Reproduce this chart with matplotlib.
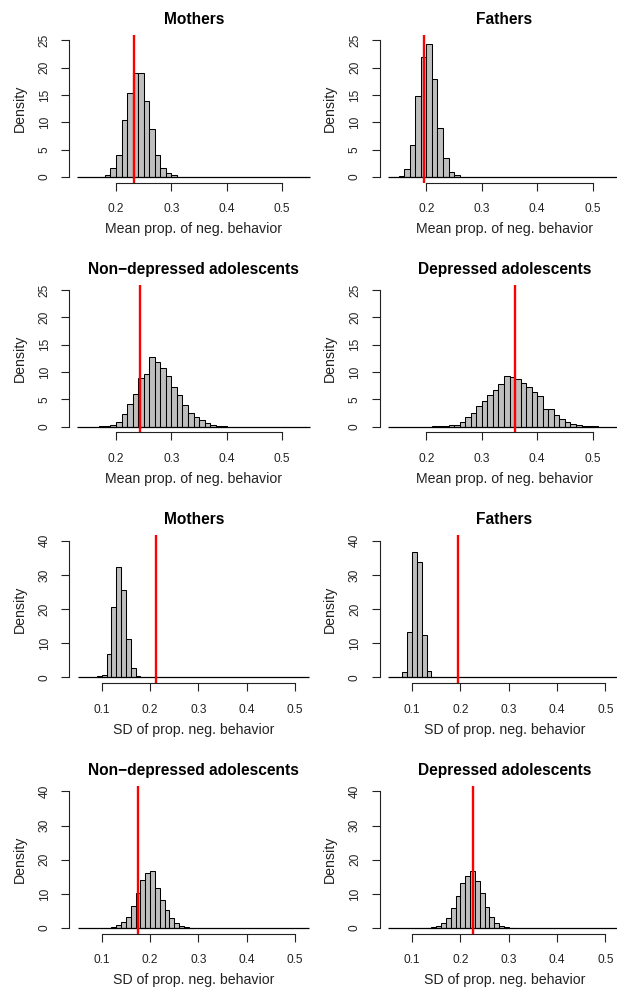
import matplotlib
matplotlib.use("Agg")
import matplotlib.pyplot as plt
import numpy as np

# -------------------------
# Data (densities, bin width 0.01)
# -------------------------
BIN_WIDTH = 0.01
MEAN_BREAKS = (0.13, 0.55)
SD_BREAKS = (0.05, 0.53)

titles = ["Mothers", "Fathers", "Non\u2212depressed adolescents", "Depressed adolescents"]

# mean proportion of negative behaviour
mean_starts = [0.18, 0.15, 0.17, 0.21]
mothers_mean = [0.3, 1.7, 4.1, 10.5, 15.4, 19.0, 19.0, 14.0, 8.8, 4.0, 1.7, 0.7, 0.3]
fathers_mean = [0.2, 1.5, 5.8, 14.8, 21.9, 24.3, 17.9, 9.0, 3.4, 1.0, 0.3]
nondep_mean = [0.1, 0.2, 0.4, 0.9, 2.3, 4.1, 6.0, 9.0, 9.6, 12.7, 11.8, 10.7,
               9.3, 7.3, 5.8, 4.0, 2.6, 1.8, 1.2, 0.6, 0.3, 0.15, 0.05]
dep_mean = [0.05, 0.1, 0.15, 0.25, 0.4, 0.85, 1.7, 2.6, 3.8, 4.8, 5.8, 6.8,
            7.8, 9.3, 9.1, 8.7, 8.0, 7.2, 6.4, 5.7, 3.2, 3.2, 2.1, 1.5,
            0.9, 0.5, 0.3, 0.15, 0.1, 0.05]
observed_mean = [0.232, 0.196, 0.2434, 0.3594]

# SD of proportion of negative behaviour
sd_starts = [0.09, 0.08, 0.12, 0.13]
mothers_sd = [0.3, 0.8, 6.8, 20.5, 32.4, 25.7, 11.1, 2.8, 0.4]
fathers_sd = [1.6, 13.4, 36.6, 33.9, 12.4, 1.9, 0.2]
nondep_sd = [0.3, 0.8, 1.8, 3.3, 6.5, 10.3, 14.0, 16.0, 16.7, 11.7, 8.3,
             5.2, 3.0, 1.4, 0.5, 0.2]
dep_sd = [0.1, 0.3, 0.7, 1.4, 2.8, 5.8, 9.4, 13.3, 15.1, 16.6, 13.7, 10.2,
          6.3, 3.1, 1.6, 0.7, 0.25, 0.1]
observed_sd = [0.213, 0.194, 0.1746, 0.2253]

mean_hists = [mothers_mean, fathers_mean, nondep_mean, dep_mean]
sd_hists = [mothers_sd, fathers_sd, nondep_sd, dep_sd]

# -------------------------
# Layout (pixels of the 617x994 output)
# -------------------------
W, H = 617, 994
COL_LEFT = [69.3, 379.7]
ROW_TOP = [35.0, 284.7, 535.3, 786.0]
AX_W, AX_H = 249.0, 147.5
INK = "#222222"

plt.rcParams["font.family"] = ["Liberation Sans", "DejaVu Sans"]

fig = plt.figure(figsize=(W / 100, H / 100), dpi=100)


def draw_panel(ax, start, dens, breaks, obs, title, xlabel, xlim, ylim, yticks, xticks):
    lefts = start + BIN_WIDTH * np.arange(len(dens))
    # empty bins of the histogram: a flat line at zero across all breaks
    ax.hlines(0, breaks[0], breaks[1], color="black", linewidth=0.9)
    ax.bar(lefts, dens, width=BIN_WIDTH, align="edge", color="#BEBEBE",
           edgecolor="black", linewidth=0.75)
    ax.axvline(obs, color="red", linewidth=1.7)

    ax.set_xlim(*xlim)
    ax.set_ylim(*ylim)
    ax.set_xticks(xticks)
    ax.set_xticklabels([f"{t:.1f}" for t in xticks])
    ax.set_yticks(yticks)
    ax.set_yticklabels([str(t) for t in yticks])

    for side in ["top", "right"]:
        ax.spines[side].set_visible(False)
    ax.spines["left"].set_bounds(yticks[0], yticks[-1])
    ax.spines["bottom"].set_bounds(xticks[0], xticks[-1])
    for side in ["left", "bottom"]:
        ax.spines[side].set_linewidth(0.8)
        ax.spines[side].set_color(INK)

    ax.tick_params(axis="both", direction="out", length=5.5, width=0.8,
                   color=INK, labelsize=8.6, labelcolor=INK)
    ax.tick_params(axis="x", pad=9.5)
    ax.tick_params(axis="y", pad=8, labelrotation=90)
    for lab in ax.get_yticklabels():
        lab.set_va("center")

    ax.set_title(title, fontsize=11.2, fontweight="bold", pad=8)
    ax.set_xlabel(xlabel, fontsize=10.2, labelpad=5, color=INK)
    ax.set_ylabel("Density", fontsize=10.2, labelpad=8.5, color=INK)


for i in range(4):
    row, col = divmod(i, 2)
    left = COL_LEFT[col] / W
    bottom = 1 - (ROW_TOP[row] + AX_H) / H
    ax = fig.add_axes([left, bottom, AX_W / W, AX_H / H])
    draw_panel(ax, mean_starts[i], mean_hists[i], MEAN_BREAKS, observed_mean[i],
               titles[i], "Mean prop. of neg. behavior",
               (0.1157, 0.1157 + AX_W / 554), (-1, 26),
               [0, 5, 10, 15, 20, 25], [0.2, 0.3, 0.4, 0.5])

for i in range(4):
    row, col = divmod(i, 2)
    left = COL_LEFT[col] / W
    bottom = 1 - (ROW_TOP[row + 2] + AX_H) / H
    ax = fig.add_axes([left, bottom, AX_W / W, AX_H / H])
    draw_panel(ax, sd_starts[i], sd_hists[i], SD_BREAKS, observed_sd[i],
               titles[i], "SD of prop. neg. behavior",
               (0.0328, 0.0328 + AX_W / 483), (-1.6, 41.6),
               [0, 10, 20, 30, 40], [0.1, 0.2, 0.3, 0.4, 0.5])

fig.savefig("out.png", dpi=100)
